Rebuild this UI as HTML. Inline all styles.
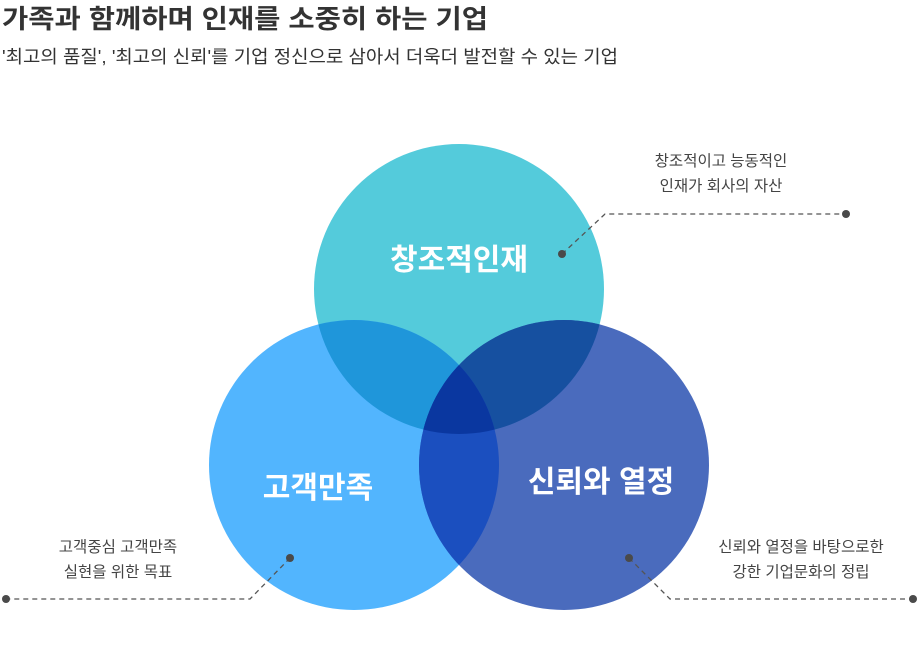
<!DOCTYPE html>
<html><head><meta charset="utf-8"><style>
body{margin:0;width:920px;height:650px;background:#fff;overflow:hidden;font-family:"Liberation Sans","Noto Sans CJK KR",sans-serif;}
</style></head><body>
<svg width="920" height="650" xmlns="http://www.w3.org/2000/svg" style="position:absolute;left:0;top:0">
<defs>
<clipPath id="cT"><circle cx="459" cy="289" r="145"/></clipPath>
<clipPath id="cL"><circle cx="354" cy="465" r="145"/></clipPath>
<clipPath id="cR"><circle cx="564" cy="465" r="145"/></clipPath>
</defs>
<text x="2" y="28" font-size="26" font-weight="bold" fill="#333" textLength="486" lengthAdjust="spacingAndGlyphs" font-family="Liberation Sans, Noto Sans CJK KR, sans-serif">가족과 함께하며 인재를 소중히 하는 기업</text>
<text x="2" y="63" font-size="18" fill="#333" textLength="616" lengthAdjust="spacingAndGlyphs" font-family="Liberation Sans, Noto Sans CJK KR, sans-serif">'최고의 품질', '최고의 신뢰'를 기업 정신으로 삼아서 더욱더 발전할 수 있는 기업</text>
<circle cx="459" cy="289" r="145" fill="#54cbdb"/>
<circle cx="354" cy="465" r="145" fill="#52b5fe"/>
<circle cx="564" cy="465" r="145" fill="#4a6bbd"/>
<g clip-path="url(#cT)"><circle cx="354" cy="465" r="145" fill="#1f96da"/><circle cx="564" cy="465" r="145" fill="#1650a0"/></g>
<g clip-path="url(#cL)"><circle cx="564" cy="465" r="145" fill="#1b4fbf"/></g>
<g clip-path="url(#cT)"><g clip-path="url(#cL)"><circle cx="564" cy="465" r="145" fill="#0a37a0"/></g></g>
<g font-family="Liberation Sans, Noto Sans CJK KR, sans-serif" font-weight="bold" fill="#fff" font-size="30" text-anchor="middle">
<text x="459" y="270">창조적인재</text>
<text x="318" y="498">고객만족</text>
<text x="601" y="492">신뢰와 열정</text>
</g>
<g stroke="#555" stroke-width="1.3" stroke-dasharray="5,4" fill="none">
<polyline points="562,254 605,214 846,214"/>
<polyline points="290,558 250,599 6,599"/>
<polyline points="629,558 670,599 913,599"/>
</g>
<g fill="#4a4a4a">
<circle cx="562" cy="254" r="4"/><circle cx="846" cy="214" r="4"/>
<circle cx="290" cy="558" r="4"/><circle cx="6" cy="599" r="4"/>
<circle cx="629" cy="558" r="4"/><circle cx="913" cy="599" r="4"/>
</g>
<g font-family="Liberation Sans, Noto Sans CJK KR, sans-serif" font-size="15.5" fill="#444" text-anchor="middle">
<text x="721" y="166">창조적이고 능동적인</text>
<text x="721" y="191">인재가 회사의 자산</text>
<text x="118" y="552">고객중심 고객만족</text>
<text x="118" y="577">실현을 위한 목표</text>
<text x="801" y="552">신뢰와 열정을 바탕으로한</text>
<text x="801" y="577">강한 기업문화의 정립</text>
</g>
</svg>
</body></html>
